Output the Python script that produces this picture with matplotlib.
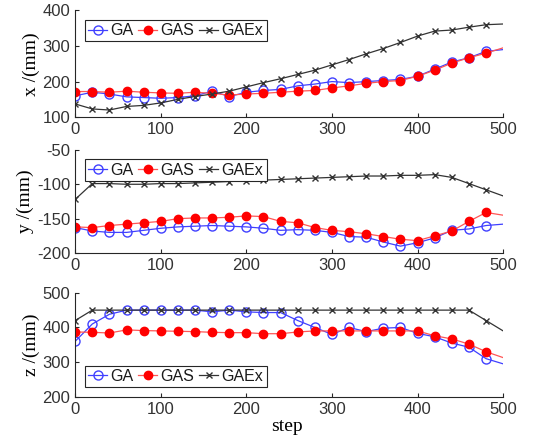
import matplotlib
matplotlib.use("Agg")
import matplotlib.pyplot as plt
import numpy as np

steps = [0, 20, 40, 60, 80, 100, 120, 140, 160, 180, 200, 220, 240,
         260, 280, 300, 320, 340, 360, 380, 400, 420, 440, 460, 480, 500]

x_ga = [160, 170, 165, 157, 155, 153, 155, 160, 173, 158, 170, 175, 178,
        188, 193, 200, 197, 200, 203, 206, 215, 235, 255, 267, 285, 290]
x_gas = [172, 172, 170, 173, 170, 168, 167, 170, 167, 162, 165, 167, 170,
         173, 175, 182, 188, 195, 200, 203, 215, 232, 252, 267, 280, 295]
x_gaex = [137, 123, 120, 130, 133, 140, 150, 158, 165, 173, 185, 197, 208,
          220, 232, 247, 262, 278, 293, 310, 328, 342, 345, 353, 360, 362]

y_ga = [-163, -168, -170, -170, -167, -164, -162, -161, -160, -161, -162, -164, -167,
        -166, -167, -170, -176, -177, -184, -190, -185, -178, -167, -165, -160, -158]
y_gas = [-162, -163, -160, -158, -156, -154, -150, -149, -149, -148, -146, -147, -154,
         -156, -163, -167, -169, -172, -176, -180, -182, -175, -168, -154, -141, -145]
y_gaex = [-122, -99, -99, -100, -100, -99, -99, -98, -97, -96, -95, -94, -93,
          -92, -91, -90, -89, -88, -88, -87, -87, -86, -90, -99, -108, -117]

z_ga = [360, 410, 438, 450, 450, 450, 450, 450, 445, 450, 445, 443, 443,
        420, 400, 380, 400, 388, 398, 400, 383, 373, 355, 343, 310, 295]
z_gas = [387, 386, 384, 393, 391, 390, 389, 388, 386, 385, 385, 382, 382,
         387, 390, 390, 390, 390, 390, 390, 390, 376, 367, 352, 330, 313]
z_gaex = [420, 450, 450, 450, 450, 450, 450, 450, 450, 450, 450, 450, 450,
          450, 450, 450, 450, 450, 450, 450, 450, 450, 450, 450, 420, 390]

panels = [
    ("x /(mm)", x_ga, x_gas, x_gaex, (100, 400), [100, 200, 300, 400], "upper left"),
    ("y /(mm)", y_ga, y_gas, y_gaex, (-200, -50), [-200, -150, -100, -50], "upper left"),
    ("z /(mm)", z_ga, z_gas, z_gaex, (200, 500), [200, 300, 400, 500], "lower left"),
]

plt.rcParams["axes.unicode_minus"] = False

fig = plt.figure(figsize=(5.37, 4.37), dpi=100)
boxes = [(0.140, 0.732, 0.797, 0.244),
         (0.140, 0.421, 0.797, 0.236),
         (0.140, 0.092, 0.797, 0.238)]

tick_font = "Liberation Sans"
label_font = "Liberation Serif"
text_color = "#333333"
marks = list(range(len(steps) - 1))

for (ylabel, ga, gas, gaex, ylim, yticks, loc), box in zip(panels, boxes):
    ax = fig.add_axes(box)
    ax.plot(steps, ga, color="#4040ff", lw=0.9, marker="o", markersize=6.5,
            markerfacecolor="none", markeredgewidth=1.0, markevery=marks, label="GA")
    ax.plot(steps, gas, color="#ff5555", lw=0.9, marker="o", markersize=6,
            markerfacecolor="#ff0000", markeredgecolor="#ff0000", markevery=marks,
            label="GAS")
    ax.plot(steps, gaex, color="#333333", lw=0.9, marker="x", markersize=5,
            markeredgewidth=1.0, markevery=marks, label="GAEx")
    ax.set_xlim(0, 500)
    ax.set_ylim(*ylim)
    ax.set_yticks(yticks)
    ax.set_xticks([0, 100, 200, 300, 400, 500])
    ax.spines["top"].set_visible(False)
    ax.spines["right"].set_visible(False)
    for s in ("left", "bottom"):
        ax.spines[s].set_color("#262626")
        ax.spines[s].set_linewidth(0.8)
    ax.tick_params(direction="in", length=3, width=0.8, colors="#262626",
                   labelcolor=text_color, labelsize=12)
    for lab in ax.get_xticklabels() + ax.get_yticklabels():
        lab.set_fontfamily(tick_font)
    ax.set_ylabel(ylabel, fontfamily=label_font, fontsize=14, labelpad=2)
    leg = ax.legend(loc=loc, ncol=3, fancybox=False, framealpha=1,
                    edgecolor="#262626", prop={"family": tick_font, "size": 11.5},
                    handlelength=1.2, handletextpad=0.2, columnspacing=0.3,
                    borderpad=0.2, borderaxespad=0.6)
    leg.get_frame().set_linewidth(0.8)
    for t in leg.get_texts():
        t.set_color("#1a1a1a")

fig.text(0.535, 0.005, "step", ha="center", va="bottom",
         fontfamily=label_font, fontsize=14)

fig.savefig("out.png", dpi=100)
